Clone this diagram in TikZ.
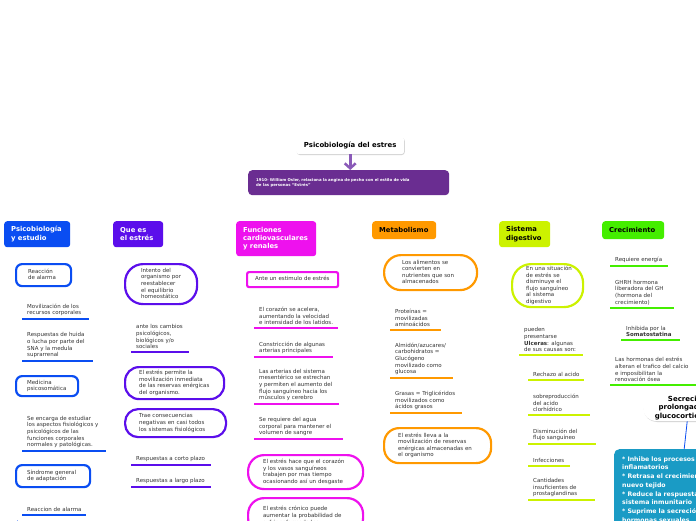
\documentclass[tikz,border=0pt]{standalone}
\usepackage{fontspec}
\setmainfont{DejaVu Sans}
\usetikzlibrary{arrows.meta,shadows}
\hyphenpenalty=10000 \exhyphenpenalty=10000
\definecolor{cA}{HTML}{0A4DF2}
\definecolor{cB}{HTML}{5B0EEB}
\definecolor{cC}{HTML}{EE11EE}
\definecolor{cD}{HTML}{FF9900}
\definecolor{cE}{HTML}{CCF200}
\definecolor{cF}{HTML}{44EE00}
\definecolor{cP}{HTML}{6A2D91}
\definecolor{cArr}{HTML}{8A5AB8}
\definecolor{cT}{HTML}{1A9BC5}
\definecolor{txt}{HTML}{333333}
\newcommand\sfnt{\fontsize{5.5}{6.6}\selectfont}
\newcommand\hfnt{\fontsize{6.8}{8.4}\selectfont\bfseries}
\newcommand\tx[1]{\begin{tabular}{@{}l@{}}#1\end{tabular}}
\pgfdeclarelayer{bg}
\pgfsetlayers{bg,main}
\begin{document}
\begin{tikzpicture}[x=1pt,y=-1pt,
 hd/.style={fill=#1, rounded corners=3pt, anchor=north west, align=left, font=\hfnt, inner xsep=7pt, inner ysep=0pt},
 bx/.style={draw=#1, line width=2.2pt, fill=white, anchor=north west, font=\sfnt, text=txt, inner ysep=0pt},
 itm/.style={anchor=south west, align=left, font=\sfnt, text=txt, inner xsep=5pt, inner ysep=3pt},
 ul/.style={draw=#1, line width=2.6pt},
 cn/.style={draw=#1!45!white, line width=0.8pt, rounded corners=3pt},
]
\useasboundingbox (0,0) rectangle (696,520);
\clip (0,0) rectangle (696,520);
\fill[white] (0,0) rectangle (696,520);

% title and intro
\node[fill=white, rounded corners=3pt, drop shadow={shadow xshift=0.6pt, shadow yshift=-0.8pt, opacity=0.35}, minimum width=108pt, minimum height=17pt, font=\fontsize{6.9}{8}\selectfont\bfseries, anchor=north west, inner sep=0pt] (title) at (296,137) {Psicobiología del estres};
\node[fill=cP, rounded corners=4pt, anchor=north west, minimum height=25pt, text width=185pt, inner xsep=8pt, inner ysep=0pt, font=\fontsize{3.9}{5.4}\selectfont\bfseries, text=white] (pb) at (248,170) {\tx{1910- William Osler, relaciona la angina de pecho con el estilo de vida\\de las personas ``Estrés''}};
\draw[cArr, line width=3pt, -{Straight Barb[length=5pt,width=11pt,line width=2.5pt]}] (title.south) -- (title.south |- pb.north);

% headers
\node[hd=cA, text=white, minimum height=26pt, text width=52pt] (h1) at (4,221) {Psicobiología\\y estudio};
\node[hd=cB, text=white, minimum height=26pt, text width=36pt] (h2) at (113,221) {Que es\\el estrés};
\node[hd=cC, text=white, minimum height=35pt, text width=66pt] (h3) at (236,221) {Funciones\\cardiovasculares\\y renales};
\node[hd=cD, text=black, minimum height=18pt, text width=50pt] (h4) at (372,221) {Metabolismo};
\node[hd=cE, text=black, minimum height=26pt, text width=37pt] (h5) at (499,221) {Sistema\\digestivo};
\node[hd=cF, text=black, minimum height=18pt, text width=48pt] (h6) at (602,221) {Crecimiento};

% branch 1
\node[bx=cA, rounded corners=6pt, minimum height=22pt, text width=31pt, inner xsep=12pt] (r1) at (15,263) {\tx{Reacción\\de alarma}};
\node[bx=cA, rounded corners=6pt, minimum height=20pt, text width=40pt, inner xsep=11pt] (r2) at (15,375) {\tx{Medicina\\psicosomática}};
\node[bx=cA, rounded corners=6pt, minimum height=22pt, text width=52pt, inner xsep=11pt] (r3) at (15,464) {\tx{Síndrome general\\de adaptación}};
\node[itm] (a11) at (22,319) {Movilización de los\\recursos corporales};
\node[itm] (a12) at (22,361) {Respuestas de huida\\o lucha por parte del\\SNA y la medula\\suprarrenal};
\node[itm] (a21) at (22,451) {Se encarga de estudiar\\los aspectos fisiológicos y\\psicológicos de las\\funciones corporales\\normales y patológicas.};
\node[itm] (a31) at (22,515) {Reaccion de alarma};
\draw[ul=cA] (a11.south west) -- ++(67,0);
\draw[ul=cA] (a12.south west) -- ++(71,0);
\draw[ul=cA] (a21.south west) -- ++(84,0);
\draw[ul=cA] (a31.south west) -- ++(64,0);

% branch 2
\node[bx=cB, rounded corners=18pt, minimum height=40pt, text width=40pt, inner xsep=16pt] (q1) at (124,263) {\tx{Intento del\\organismo por\\reestablecer\\el equilibrio\\homeostático}};
\node[bx=cB, rounded corners=14pt, minimum height=32pt, text width=71pt, inner xsep=14pt] (q2) at (124,366) {\tx{El estrés permite la\\movilización inmediata\\de las reservas enérgicas\\del organismo.}};
\node[bx=cB, rounded corners=13pt, minimum height=28pt, text width=73pt, inner xsep=14pt] (q3) at (124,408) {\tx{Trae consecuencias\\negativas en casi todos\\los sistemas fisiológicos}};
\node[itm] (b11) at (131,352) {ante los cambios\\psicológicos,\\biológicos y/o\\sociales};
\node[itm] (b21) at (131,465) {Respuestas a corto plazo};
\node[itm] (b22) at (131,487) {Respuestas a largo plazo};
\draw[ul=cB] (b11.south west) -- ++(58,0);
\draw[ul=cB] (b21.south west) -- ++(80,0);
\draw[ul=cB] (b22.south west) -- ++(80,0);

% branch 3
\node[bx=cC, rounded corners=2pt, minimum height=15pt, text width=75pt, inner xsep=8pt] (f1) at (246,271) {\tx{Ante un estimulo de estrés}};
\node[bx=cC, rounded corners=16pt, minimum height=34pt, text width=85pt, inner xsep=15pt] (f2) at (247,454) {\tx{El estrés hace que el corazón\\y los vasos sanguíneos\\trabajen por mas tiempo\\ocasionando así un desgaste}};
\node[bx=cC, rounded corners=16pt, minimum height=36pt, text width=85pt, inner xsep=15pt] (f3) at (247,497) {\tx{El estrés crónico puede\\aumentar la probabilidad de\\sufrir enfermedades}};
\node[itm] (c11) at (254,328) {El corazón se acelera,\\aumentando la velocidad\\e intensidad de los latidos.};
\node[itm] (c12) at (254,357) {Constricción de algunas\\arterias principales};
\node[itm] (c13) at (254,404) {Las arterias del sistema\\mesentérico se estrechan\\y permiten el aumento del\\flujo sanguíneo hacia los\\músculos y cerebro};
\node[itm] (c14) at (254,439) {Se requiere del agua\\corporal para mantener el\\volumen de sangre};
\draw[ul=cC] (c11.south west) -- ++(84,0);
\draw[ul=cC] (c12.south west) -- ++(79,0);
\draw[ul=cC] (c13.south west) -- ++(85,0);
\draw[ul=cC] (c14.south west) -- ++(89,0);

% branch 4
\node[bx=cD, rounded corners=17pt, minimum height=35pt, text width=57pt, inner xsep=18pt] (m1) at (383,254) {\tx{Los alimentos se\\convierten en\\nutrientes que son\\almacenados}};
\node[bx=cD, rounded corners=15pt, minimum height=35pt, text width=79pt, inner xsep=14pt] (m2) at (383,427) {\tx{El estrés lleva a la\\movilización de reservas\\enérgicas almacenadas en\\el organismo}};
\node[itm] (e11) at (390,330) {Proteínas =\\movilizadas\\aminoácidos};
\node[itm] (e12) at (390,378) {Almidón/azucares/\\carbohidratos =\\Glucógeno\\movilizado como\\glucosa};
\node[itm] (e13) at (390,413) {Grasas = Triglicéridos\\movilizados como\\ácidos grasos};
\draw[ul=cD] (e11.south west) -- ++(51,0);
\draw[ul=cD] (e12.south west) -- ++(63,0);
\draw[ul=cD] (e13.south west) -- ++(72,0);

% branch 5
\node[bx=cE, rounded corners=19pt, minimum height=43pt, text width=43pt, inner xsep=14pt] (d1) at (511,263) {\tx{En una situación\\de estrés se\\disminuye el\\flujo sanguíneo\\al sistema\\digestivo}};
\node[itm] (g0) at (519,355) {pueden\\presentarse\\\textbf{Ulceras}: algunas\\de sus causas son:};
\node[itm] (g1) at (528,380) {Rechazo al acido};
\node[itm] (g2) at (528,415) {sobreproducción\\del acido\\clorhídrico};
\node[itm] (g3) at (528,444) {Disminución del\\flujo sanguíneo};
\node[itm] (g4) at (528,466) {Infecciones};
\node[itm] (g5) at (528,500) {Cantidades\\insuficientes de\\prostaglandinas};
\draw[ul=cE] (g0.south west) -- ++(64,0);
\draw[ul=cE] (g1.south west) -- ++(56,0);
\draw[ul=cE] (g2.south west) -- ++(62,0);
\draw[ul=cE] (g3.south west) -- ++(68,0);
\draw[ul=cE] (g4.south west) -- ++(42,0);
\draw[ul=cE] (g5.south west) -- ++(67,0);

% branch 6
\node[itm] (k1) at (610,266) {Requiere energía};
\node[itm] (k2) at (610,308) {GHRH hormona\\liberadora del GH\\(hormona del\\crecimiento)};
\node[itm] (k3) at (621,340) {Inhibida por la\\\textbf{Somatostatina}};
\node[itm] (k4) at (610,385) {Las hormonas del estrés\\alteran el trafico del calcio\\e imposibilitan la\\renovación ósea};
\draw[ul=cF] (k1.south west) -- ++(58,0);
\draw[ul=cF] (k2.south west) -- ++(64,0);
\draw[ul=cF] (k3.south west) -- ++(59,0);
\draw[ul=cF] (k4.south west) -- ++(86,0);

% glucocorticoides
\node[fill=white, rounded corners=13pt, drop shadow={shadow xshift=0.6pt, shadow yshift=-0.8pt, opacity=0.35}, minimum width=88pt, minimum height=27pt, align=center, inner sep=0pt, font=\fontsize{7}{8.6}\selectfont\bfseries, anchor=north west] (sec) at (643,394) {Secreción\\prolongada de\\glucocorticoides};
\node[fill=cT, rounded corners=5pt, anchor=north west, text width=124pt, inner xsep=8pt, inner ysep=6pt, font=\fontsize{6.2}{8.7}\selectfont\bfseries, text=white] (tl) at (614,449) {\tx{{*} Inhibe los procesos\\inflamatorios\\{*} Retrasa el crecimiento del\\nuevo tejido\\{*} Reduce la respuesta del\\sistema inmunitario\\{*} Suprime la secreción de\\hormonas sexuales}};
\draw[cA, line width=0.8pt] (sec.south) -- (tl.north);

% connectors
\begin{pgfonlayer}{bg}
\foreach \h/\c in {h1/cA,h2/cB,h3/cC,h4/cD,h5/cE,h6/cF}
  \draw[cn=\c] (pb.south) -- ++(0,8) -| (\h.north);
\foreach \n in {r1,r2,r3} \draw[cn=cA] ([xshift=4pt]h1.south west) |- (\n.west);
\foreach \n in {a11,a12} \draw[cn=cA] ([xshift=2pt]r1.south west) |- (\n.south west);
\draw[cn=cA] ([xshift=2pt]r2.south west) |- (a21.south west);
\draw[cn=cA] ([xshift=2pt]r3.south west) |- (a31.south west);
\coordinate (a3end) at ([xshift=2pt]r3.south west |- 0,530);
\draw[cn=cA] ([xshift=2pt]r3.south west) -- (a3end);
\foreach \n in {q1,q2,q3} \draw[cn=cB] ([xshift=4pt]h2.south west) |- (\n.west);
\draw[cn=cB] ([xshift=3pt]q1.south west) |- (b11.south west);
\foreach \n in {b21,b22} \draw[cn=cB] ([xshift=3pt]q3.south west) |- (\n.south west);
\foreach \n in {f1,f2,f3} \draw[cn=cC] ([xshift=3pt]h3.south west) |- (\n.west);
\foreach \n in {c11,c12,c13,c14} \draw[cn=cC] ([xshift=3pt]f1.south west) |- (\n.south west);
\foreach \n in {m1,m2} \draw[cn=cD] ([xshift=5pt]h4.south west) |- (\n.west);
\foreach \n in {e11,e12,e13} \draw[cn=cD] ([xshift=3pt]m1.south west) |- (\n.south west);
\draw[cn=cE] ([xshift=5pt]h5.south west) |- (d1.west);
\draw[cn=cE] ([xshift=2pt]d1.south west) |- (g0.south west);
\foreach \n in {g1,g2,g3,g4,g5} \draw[cn=cE] ([xshift=4pt]g0.south west) |- (\n.south west);
\foreach \n in {k1,k2,k4} \draw[cn=cF] ([xshift=5pt]h6.south west) |- (\n.south west);
\draw[cn=cF] ([xshift=6pt]k2.south west) |- (k3.south west);
\end{pgfonlayer}
\end{tikzpicture}
\end{document}
